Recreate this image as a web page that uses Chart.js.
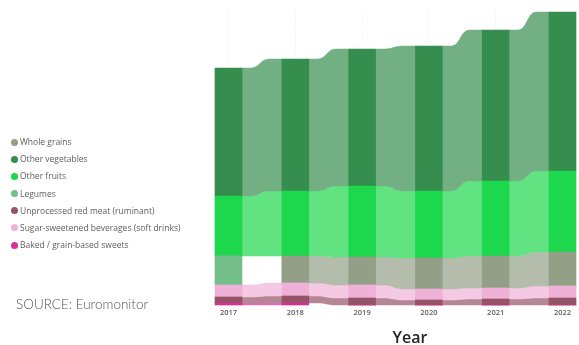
<!DOCTYPE html>
<html>
<head>
<meta charset="utf-8">
<script src="https://cdn.jsdelivr.net/npm/chart.js@4/dist/chart.umd.min.js"></script>
<style>
  html, body { margin: 0; padding: 0; background: #fff; }
  #wrap { position: relative; width: 579px; height: 345px; overflow: hidden; }
  #c { position: absolute; left: 0; top: 0; }
  #legend { position: absolute; left: 11px; top: 133px; font-family: "Open Sans", sans-serif; font-size: 8.5px; color: #605E5C; }
  #legend .it { height: 17.2px; line-height: 17.2px; white-space: nowrap; }
  #legend .dot { display: inline-block; width: 7px; height: 7px; border-radius: 50%; margin-right: 2px; vertical-align: -0.5px; }
  #source { position: absolute; left: 16px; top: 296px; font-family: "Lato", sans-serif; font-weight: 300; font-size: 13.5px; color: #555; white-space: nowrap; }
  #year { position: absolute; left: 410px; top: 326px; transform: translateX(-50%); font-family: "Open Sans", sans-serif; font-weight: 600; font-size: 16px; color: #252423; }
</style>
</head>
<body>
<div id="wrap">
  <canvas id="c" width="579" height="345"></canvas>
  <div id="legend"></div>
  <div id="source">SOURCE: Euromonitor</div>
  <div id="year">Year</div>
</div>
<script>
// ---- data ----
const years = ['2017', '2018', '2019', '2020', '2021', '2022'];
const bakedSweets   = [2, 2, 0, 0, 0, 0];
const redMeat       = [6, 7, 7, 5, 6, 7];
const sugarDrinks   = [12, 13, 13, 11, 11, 12];
const legumes       = [29, 0, 0, 0, 0, 0];
const wholeGrains   = [0, 27, 28, 31, 32, 34];
const otherFruits   = [60, 65, 71, 67, 75, 81];
const otherVeg      = [128, 132, 137, 145, 151, 159];

const seriesNames = ['Baked / grain-based sweets', 'Unprocessed red meat (ruminant)', 'Sugar-sweetened beverages (soft drinks)', 'Legumes', 'Whole grains', 'Other fruits', 'Other vegetables'];
const seriesData  = [bakedSweets, redMeat, sugarDrinks, legumes, wholeGrains, otherFruits, otherVeg];
const seriesColors = ['#D62F97', '#955466', '#F0B1D8', '#74BE89', '#949F87', '#1DD74C', '#358E4E'];
const legendOrder = ['Whole grains', 'Other vegetables', 'Other fruits', 'Legumes', 'Unprocessed red meat (ruminant)', 'Sugar-sweetened beverages (soft drinks)', 'Baked / grain-based sweets'];

function lighten(hex, a) {
  const r = parseInt(hex.slice(1, 3), 16), g = parseInt(hex.slice(3, 5), 16), b = parseInt(hex.slice(5, 7), 16);
  const m = v => Math.round(v * a + 255 * (1 - a));
  return 'rgb(' + m(r) + ',' + m(g) + ',' + m(b) + ')';
}

// ribbons between columns, drawn from the bar elements positioned by the chart's scales
const ribbonPlugin = {
  id: 'ribbons',
  beforeDatasetsDraw(chart) {
    const ctx = chart.ctx;
    ctx.save();
    chart.data.datasets.forEach((ds, di) => {
      const meta = chart.getDatasetMeta(di);
      const col = lighten(ds.backgroundColor, 0.7);
      for (let i = 0; i < meta.data.length - 1; i++) {
        if (!(ds.data[i] > 0 && ds.data[i + 1] > 0)) continue;
        const a = meta.data[i].getProps(['x', 'y', 'base', 'width'], true);
        const b = meta.data[i + 1].getProps(['x', 'y', 'base', 'width'], true);
        const x0 = a.x + a.width / 2, x1 = b.x - b.width / 2;
        const w = x1 - x0;
        const xa = x0 + 0.22 * w, xb = x0 + 0.68 * w, xm = (xa + xb) / 2;
        ctx.beginPath();
        ctx.moveTo(x0, a.y);
        ctx.lineTo(xa, a.y);
        ctx.bezierCurveTo(xm, a.y, xm, b.y, xb, b.y);
        ctx.lineTo(x1, b.y);
        ctx.lineTo(x1, b.base);
        ctx.lineTo(xb, b.base);
        ctx.bezierCurveTo(xm, b.base, xm, a.base, xa, a.base);
        ctx.lineTo(x0, a.base);
        ctx.closePath();
        ctx.fillStyle = col;
        ctx.fill();
        ctx.strokeStyle = col;
        ctx.lineWidth = 0.5;
        ctx.stroke();
      }
    });
    ctx.restore();
  }
};

const chart = new Chart(document.getElementById('c'), {
  type: 'bar',
  data: {
    labels: years,
    datasets: seriesNames.map((n, k) => ({
      label: n,
      data: seriesData[k],
      backgroundColor: seriesColors[k],
      borderWidth: 0,
      barThickness: 27,
      clip: false
    }))
  },
  options: {
    responsive: false,
    devicePixelRatio: 1,
    animation: false,
    layout: { padding: { left: 228.5, right: 16.5, top: 11, bottom: 25 } },
    plugins: { legend: { display: false }, tooltip: { enabled: false } },
    scales: {
      x: {
        stacked: true,
        offset: false,
        border: { display: false, dash: [1, 2] },
        grid: { color: 'rgba(0,0,0,0.08)', drawTicks: false, lineWidth: 1, offset: false },
        ticks: { color: '#605E5C', font: { family: 'Open Sans', size: 7.5, weight: '600' }, padding: 3, maxRotation: 0 }
      },
      y: { stacked: true, display: false, min: 0, max: 294 }
    }
  },
  plugins: [ribbonPlugin]
});

// legend
const lg = document.getElementById('legend');
legendOrder.forEach(n => {
  const k = seriesNames.indexOf(n);
  const d = document.createElement('div');
  d.className = 'it';
  d.innerHTML = '<span class="dot" style="background:' + seriesColors[k] + '"></span>' + n;
  lg.appendChild(d);
});
</script>
</body>
</html>
